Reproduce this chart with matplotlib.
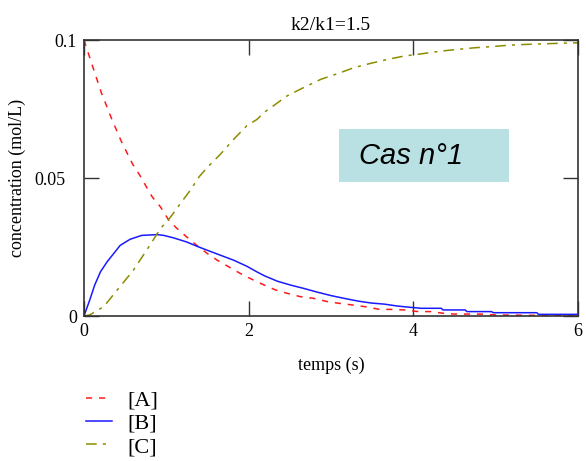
import numpy as np
import matplotlib.pyplot as plt
from matplotlib.patches import Rectangle

# values
t_a = [0, 0.11, 0.21, 0.33, 0.45, 0.59, 0.68, 0.76, 0.83, 0.93, 1.03, 1.13, 1.25, 1.37,
       1.50, 1.62, 1.76, 1.90, 2.04, 2.19, 2.33, 2.47, 2.63, 2.79, 2.96, 3.10, 3.26, 3.41,
       3.59, 3.73, 3.89, 4.06, 4.22, 4.36, 4.50, 4.67, 4.83, 4.99, 5.3, 5.6, 6.0]
conc_a = [0.1, 0.090, 0.081, 0.0719, 0.0635, 0.0551, 0.0509, 0.0467, 0.0431, 0.0395, 0.0347,
          0.0317, 0.0286, 0.0256, 0.0226, 0.0202, 0.0178, 0.0154, 0.0133, 0.0112, 0.0094,
          0.0082, 0.0070, 0.0064, 0.0052, 0.0046, 0.0040, 0.0034, 0.0024, 0.0024, 0.0022,
          0.0016, 0.0016, 0.0010, 0.0007, 0.0007, 0.0007, 0.0004, 0.0003, 0.0002, 0.0002]

t_b = [0, 0.07, 0.13, 0.20, 0.28, 0.36, 0.44, 0.56, 0.70, 0.89, 0.97, 1.09, 1.25, 1.37,
       1.50, 1.66, 1.82, 1.98, 2.10, 2.19, 2.35, 2.51, 2.67, 2.84, 3.00, 3.16, 3.33, 3.49,
       3.65, 3.81, 3.98, 4.10, 4.34, 4.36, 4.63, 4.65, 4.95, 4.97, 5.50, 5.52, 6.0]
conc_b = [0, 0.0058, 0.0112, 0.0160, 0.0196, 0.0226, 0.0256, 0.0278, 0.0292, 0.0295, 0.0292,
          0.0283, 0.0268, 0.0253, 0.0238, 0.0220, 0.0202, 0.0180, 0.0160, 0.0146, 0.0126,
          0.0112, 0.0100, 0.0086, 0.0074, 0.0064, 0.0054, 0.0047, 0.0043, 0.0036, 0.0031,
          0.0028, 0.0028, 0.0022, 0.0022, 0.0016, 0.0016, 0.0012, 0.0012, 0.0006, 0.0006]

t_c = [0, 0.07, 0.24, 0.42, 0.60, 0.76, 0.93, 1.05, 1.17, 1.29, 1.40, 1.50, 1.66, 1.82,
       1.98, 2.10, 2.19, 2.33, 2.47, 2.67, 2.88, 3.08, 3.28, 3.49, 3.69, 3.89, 4.10, 4.34,
       4.54, 4.75, 4.95, 5.15, 5.36, 5.56, 5.76, 6.0]
conc_c = [0, 0.0004, 0.0034, 0.0100, 0.0166, 0.0238, 0.0317, 0.0358, 0.0407, 0.0455, 0.0505,
          0.0539, 0.0587, 0.0641, 0.0690, 0.0712, 0.0738, 0.0768, 0.0798, 0.0828, 0.0858,
          0.0878, 0.0900, 0.0916, 0.0930, 0.0942, 0.0950, 0.0960, 0.0966, 0.0972, 0.0976,
          0.0981, 0.0984, 0.0986, 0.0988, 0.0990]

labels = ['[A]', '[B]', '[C]']
x_ticks = [0, 2, 4, 6]
y_ticks = [0, 0.05, 0.1]
y_tick_labels = ['0', '0.05', '0.1']

serif = 'Liberation Serif'

fig = plt.figure(figsize=(5.86, 4.61), dpi=100)
ax = fig.add_axes([0.1433, 0.3145, 0.8430, 0.5987])

la, = ax.plot(t_a, conc_a, color='#ff1a1a', lw=1.1, dashes=(4, 4.5))
lb, = ax.plot(t_b, conc_b, color='#1a1aff', lw=1.1)
lc, = ax.plot(t_c, conc_c, color='#8c8c00', lw=1.1, dashes=(7, 4, 2, 4))

ax.set_xlim(0, 6)
ax.set_ylim(0, 0.1)
ax.set_xticks(x_ticks)
ax.set_xticklabels([str(v) for v in x_ticks], fontfamily=serif, fontsize=13)
ax.set_yticks(y_ticks)
ax.set_yticklabels(y_tick_labels, fontfamily=serif, fontsize=13)
ax.tick_params(direction='in', length=11, width=1, color='#333333',
               top=True, right=True, pad=5)
ax.yaxis.get_major_ticks()[1].set_pad(13)
for s in ax.spines.values():
    s.set_color('#333333')
    s.set_linewidth(1.2)

ax.set_title('k2/k1=1.5', fontfamily=serif, fontsize=14, pad=7)
ax.set_xlabel('temps (s)', fontfamily=serif, fontsize=13, labelpad=12)
ax.set_ylabel('concentration (mol/L)', fontfamily=serif, fontsize=13, labelpad=6)

# light blue "Cas n°1" box
ax.add_patch(Rectangle((3.10, 0.0484), 2.06, 0.0195, facecolor='#b9e0e3',
                       edgecolor='none', zorder=1))
ax.text(3.97, 0.0581, 'Cas n°1', fontfamily='Liberation Sans', style='italic',
        fontsize=21, va='center', ha='center', zorder=2)

fig.legend([la, lb, lc], labels, loc='upper left', bbox_to_anchor=(0.127, 0.178),
           frameon=False, prop={'family': serif, 'size': 16}, handlelength=1.2,
           handletextpad=0.7, labelspacing=0.12, borderpad=0)

fig.savefig('out.png', dpi=100)
